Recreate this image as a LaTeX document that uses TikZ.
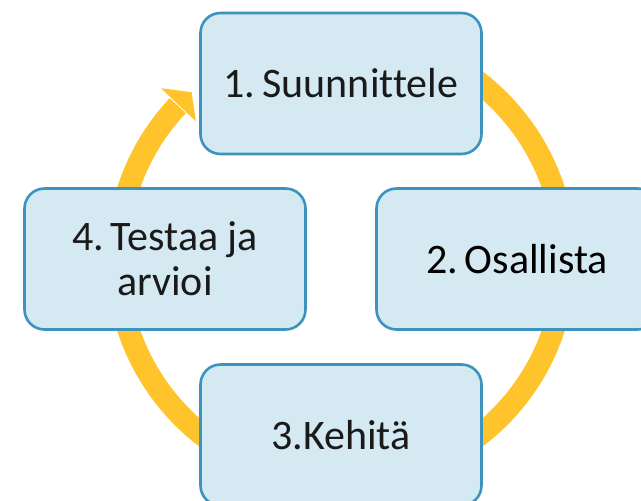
\documentclass[tikz,border=0pt]{standalone}
\usepackage{fontspec}
\usetikzlibrary{calc}
\setmainfont[Ligatures={NoCommon}]{Carlito}
\definecolor{ringyellow}{HTML}{FFC32B}
\definecolor{boxfill}{HTML}{D4E9F2}
\definecolor{boxline}{HTML}{3C94BE}
\definecolor{lighttext}{HTML}{1A1A1A}
\tikzset{
  stagebox/.style={draw=boxline, fill=boxfill, line width=2.6pt, rounded corners=20pt,
    minimum width=281pt, minimum height=141pt, inner sep=0pt, align=center,
    font=\fontsize{42}{45}\selectfont, text=lighttext},
  ringline/.style={draw=ringyellow, line width=22pt, line cap=butt},
}
\begin{document}
\begin{tikzpicture}[x=1pt,y=1pt]
\useasboundingbox (0,0) rectangle (641,501);
\clip (0,0) rectangle (641,501);
\fill[white] (0,0) rectangle (641,501);
\coordinate (c) at (341,242);
% ring
\draw[ringline] ($(c)+(80:224)$) arc[start angle=80, end angle=-223.2, radius=224];
\coordinate (tip) at ($(c)+(131.85:224)$);
\coordinate (barbA) at ($(c)+(136.5:248)$);
\coordinate (barbB) at ($(c)+(136.5:200)$);
\fill[ringyellow] (barbA) -- (tip) -- (barbB) -- cycle;
% boxes
\node[stagebox] (s1) at (341,417.5) {1.\,Suunnittele};
\node[stagebox, text=black] (s2) at (517,242) {2.\,Osallista};
\node[stagebox] (s3) at (341,66) {3.Kehitä};
\node[stagebox] (s4) at (165,242) {4.\,Testaa ja\\arvioi};
\end{tikzpicture}
\end{document}
